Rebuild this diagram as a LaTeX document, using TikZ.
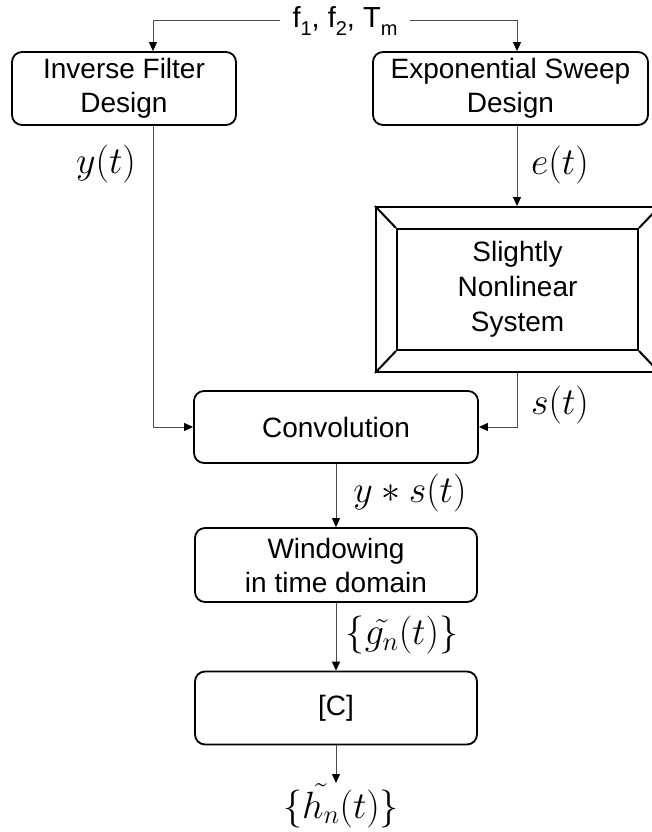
\RequirePackage{fix-cm}
\documentclass[tikz,border=0pt]{standalone}
\usepackage{fontspec}
\setmainfont{Liberation Sans}
\usetikzlibrary{arrows.meta}
\tikzset{
  box/.style={draw=black, line width=1.8pt, rounded corners=10pt, align=center,
    font=\fontsize{28}{34}\selectfont, inner sep=0pt},
  conn/.style={draw=black!70, line width=1pt, -{Triangle[length=9pt,width=8pt,color=black]}},
  lab/.style={font=\fontsize{38}{44}\selectfont, inner sep=0pt},
  bevel/.style={draw=black, line width=2pt},
}
\newcommand{\mysub}[1]{\raisebox{-0.28em}{\fontsize{20}{20}\selectfont #1}}
\begin{document}
\begin{tikzpicture}[x=1pt,y=-1pt]
\useasboundingbox (0,0) rectangle (652,832);
\clip (0,0) rectangle (652,832);
% top parameter label
\node[font=\fontsize{29}{33}\selectfont, inner xsep=12pt, inner ysep=0pt] (top) at (345,21)
  {f\mysub{1}, f\mysub{2}, T\mysub{m}};
% boxes
\node[box, minimum width=224, minimum height=73] (ifd) at (124,88.5) {Inverse Filter\\Design};
\node[box, minimum width=275, minimum height=73] (esd) at (510.5,88.5) {Exponential Sweep\\Design};
\node[bevel, minimum width=283, minimum height=165, inner sep=0pt] (sns) at (517.5,289.5) {};
\node[bevel, minimum width=241, minimum height=121, inner sep=0pt, align=center,
  font=\fontsize{28}{35}\selectfont] (snsin) at (517.5,289.5) {Slightly\\Nonlinear\\System};
\draw[bevel] (sns.north west) -- (snsin.north west);
\draw[bevel] (sns.north east) -- (snsin.north east);
\draw[bevel] (sns.south west) -- (snsin.south west);
\draw[bevel] (sns.south east) -- (snsin.south east);
\node[box, minimum width=284, minimum height=72] (conv) at (336,427) {Convolution};
\node[box, minimum width=282, minimum height=74] (win) at (336,565) {Windowing\\in time domain};
\node[box, minimum width=282, minimum height=73] (cbox) at (336,708) {[C]};
% output label
\node[lab, anchor=north] (hout) at (341,783) {$\{\tilde{h_n}(t)\}$};
% column coordinates
\coordinate (lx) at (153,0);
\coordinate (rx) at (517,0);
\coordinate (cx) at (336,0);
% connectors
\draw[conn] (top.west) -| (lx |- ifd.north);
\draw[conn] (top.east) -| (rx |- esd.north);
\draw[conn] (lx |- ifd.south) |- (conv.west);
\draw[conn] (rx |- esd.south) -- (rx |- sns.north);
\draw[conn] (rx |- sns.south) |- (conv.east);
\draw[conn] (cx |- conv.south) -- (cx |- win.north);
\draw[conn] (cx |- win.south) -- (cx |- cbox.north);
\draw[conn] (cx |- cbox.south) -- (cx |- hout.north);
% signal labels
\node[lab] (ylab) at (106,164) {$y(t)$};
\node[lab] (elab) at (560,165) {$e(t)$};
\node[lab] (slab) at (560,405) {$s(t)$};
\node[lab] (yslab) at (410,493) {$y*s(t)$};
\node[lab] (glab) at (402,635) {$\{\tilde{g_n}(t)\}$};
\end{tikzpicture}
\end{document}
